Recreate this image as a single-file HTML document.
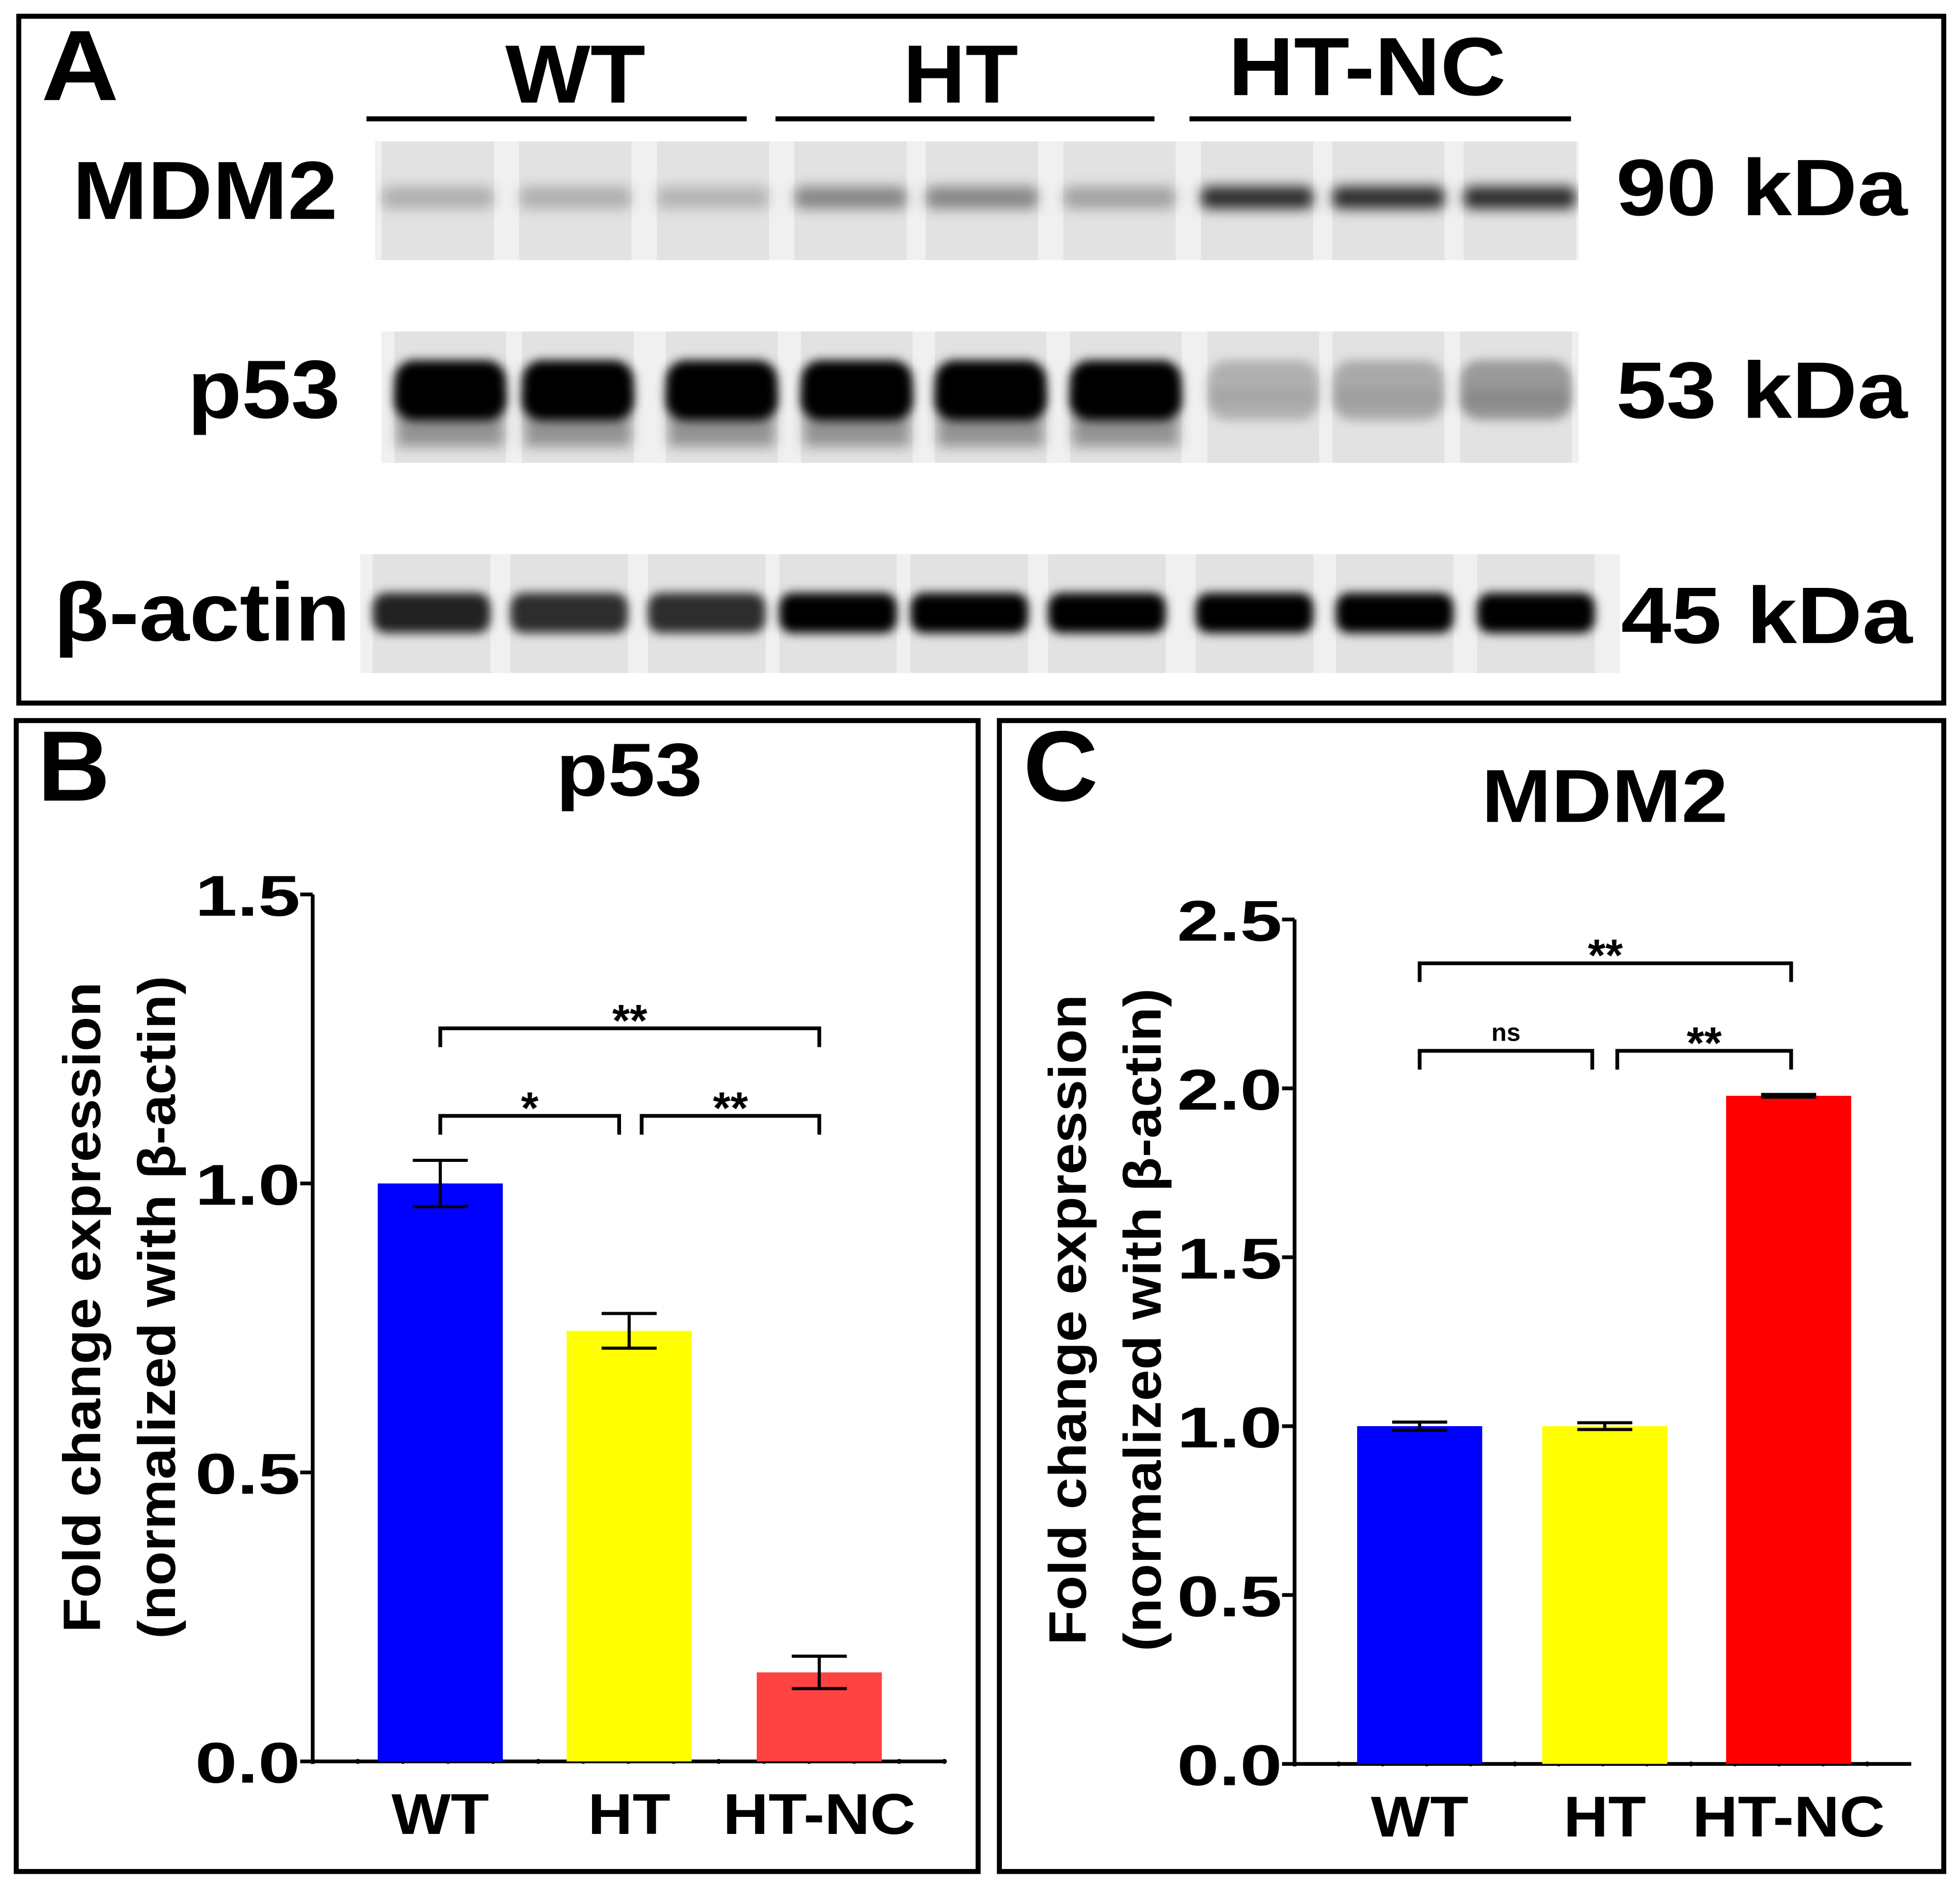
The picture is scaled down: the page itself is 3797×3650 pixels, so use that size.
<!DOCTYPE html>
<html><head><meta charset="utf-8">
<style>
html,body{margin:0;padding:0;background:#fff;}
svg{display:block;}
text{font-family:"Liberation Sans",Arial,sans-serif;font-weight:bold;fill:#000;}
</style></head>
<body>
<svg id="fig" width="3797" height="3650" viewBox="0 0 1567 1506" preserveAspectRatio="none" xmlns="http://www.w3.org/2000/svg">
<defs>
<filter id="blur" x="-30%" y="-60%" width="160%" height="220%"><feGaussianBlur stdDeviation="5"/></filter>
<filter id="blur2" x="-30%" y="-60%" width="160%" height="220%"><feGaussianBlur stdDeviation="4"/></filter>
</defs>
<rect width="1567" height="1506" fill="#fff"/>
<g>
<rect x="15" y="13" width="1539" height="549" fill="none" stroke="#000" stroke-width="4"/>
<text x="33" y="80" font-size="80" textLength="62" lengthAdjust="spacingAndGlyphs">A</text>
<text x="460" y="82" font-size="66" text-anchor="middle" textLength="112" lengthAdjust="spacingAndGlyphs">WT</text>
<text x="768" y="82" font-size="66" text-anchor="middle" textLength="92" lengthAdjust="spacingAndGlyphs">HT</text>
<text x="1093" y="76" font-size="66" text-anchor="middle" textLength="222" lengthAdjust="spacingAndGlyphs">HT-NC</text>
<line x1="293" y1="95" x2="597" y2="95" stroke="#000" stroke-width="4"/>
<line x1="620" y1="95" x2="923" y2="95" stroke="#000" stroke-width="4"/>
<line x1="951" y1="95" x2="1256" y2="95" stroke="#000" stroke-width="4"/>
<text x="58" y="175" font-size="66" textLength="212" lengthAdjust="spacingAndGlyphs">MDM2</text>
<text x="150" y="334" font-size="66" textLength="122" lengthAdjust="spacingAndGlyphs">p53</text>
<text x="43" y="512" font-size="66" textLength="237" lengthAdjust="spacingAndGlyphs">β-actin</text>
<text x="1292" y="172" font-size="64" textLength="233" lengthAdjust="spacingAndGlyphs">90 kDa</text>
<text x="1292" y="334" font-size="64" textLength="233" lengthAdjust="spacingAndGlyphs">53 kDa</text>
<text x="1296" y="514" font-size="64" textLength="233" lengthAdjust="spacingAndGlyphs">45 kDa</text>
<g id="blots"></g>
</g>
<rect x="13" y="576" width="769" height="920" fill="none" stroke="#000" stroke-width="4"/>
<text x="30" y="640" font-size="80" textLength="58" lengthAdjust="spacingAndGlyphs">B</text>
<text x="503" y="636" font-size="60" text-anchor="middle" textLength="117" lengthAdjust="spacingAndGlyphs">p53</text>
<g id="chartB"></g>
<rect x="799" y="576" width="755" height="920" fill="none" stroke="#000" stroke-width="4"/>
<text x="818" y="640" font-size="80" textLength="60" lengthAdjust="spacingAndGlyphs">C</text>
<text x="1283" y="657" font-size="60" text-anchor="middle" textLength="197" lengthAdjust="spacingAndGlyphs">MDM2</text>
<g id="chartC"></g>
</svg>
<script>
const categories = ["WT","HT","HT-NC"];
const p53Values = [1.0, 0.745, 0.154];
const p53Errors = [0.04, 0.03, 0.028];
const p53Ticks = [0.0, 0.5, 1.0, 1.5];
const p53TickLabels = ["0.0","0.5","1.0","1.5"];
const mdm2Values = [1.0, 1.0, 1.978];
const mdm2Errors = [0.012, 0.01, 0.004];
const mdm2Ticks = [0.0, 0.5, 1.0, 1.5, 2.0, 2.5];
const mdm2TickLabels = ["0.0","0.5","1.0","1.5","2.0","2.5"];
const barColors = ["#0000ff","#ffff00","#ff4242"];
const barColorsC = ["#0000ff","#ffff00","#ff0000"];
const mdm2Bands = [0.22,0.22,0.2,0.4,0.4,0.28,0.8,0.8,0.8];
const p53Bands = [1,1,1,1,1,1,0.22,0.25,0.32];
const actinBands = [0.85,0.8,0.8,1,1,1,1,1,1];

const NS="http://www.w3.org/2000/svg";
function mk(tag, attrs, parent){const e=document.createElementNS(NS,tag);for(const k in attrs)e.setAttribute(k,attrs[k]);parent.appendChild(e);return e;}

const blots=document.getElementById('blots');
function blot(name,x0,x1,y0,y1,lanes,bandY,bandH,vals,blurId,smear){
  const g=mk('g',{},blots);
  
  
  mk('rect',{x:x0,y:y0,width:x1-x0,height:y1-y0,fill:'#f0f0f0'},g);
  const lw=(x1-x0)/lanes.length;
  lanes.forEach((cx)=>{
    mk('rect',{x:cx-lw*0.42,y:y0,width:lw*0.84,height:y1-y0,fill:'#e2e2e2'},g);
  });
  const clip='c'+name;
  const cp=mk('clipPath',{id:clip},g);
  mk('rect',{x:x0,y:y0,width:x1-x0,height:y1-y0},cp);
  const bg=mk('g',{'clip-path':'url(#'+clip+')'},g);
  vals.forEach((v,i)=>{
    if(smear) mk('rect',{x:lanes[i]-lw*0.4,y:bandY,width:lw*0.8,height:smear*v,fill:'#000','fill-opacity':0.35*v,filter:'url(#blur)'},bg);
    const b=mk('rect',{x:lanes[i]-lw*0.42,y:bandY-bandH/2,width:lw*0.84,height:bandH,rx:bandH/3,fill:'#000','fill-opacity':v,filter:'url(#'+blurId+')'},bg);
    
    
  });
}
blot('mdm2-blot',300,1262,113,208,[350,460,570,680,785,895,1005,1110,1215],158,18,mdm2Bands,'blur',0);
blot('p53-blot',305,1262,265,370,[360,462,577,685,792,900,1010,1110,1212],312,48,p53Bands,'blur2',45);
blot('actin-blot',288,1295,443,538,[345,455,565,670,775,885,1003,1115,1228],490,32,actinBands,'blur2',0);

function txt(g,attrs,str,name,len){
  if(len){attrs.textLength=len;attrs.lengthAdjust='spacingAndGlyphs';}
  const t=mk('text',attrs,g);t.textContent=str;
  
  
  return t;
}
function chart(id,opt){
  const g=document.getElementById(id);
  const y=v=>opt.y0-(v/opt.max)*(opt.y0-opt.yTop);
  const x=i=>opt.xs[i];
  const ya=mk('line',{x1:opt.ax,y1:y(opt.max),x2:opt.ax,y2:opt.y0+2,stroke:'#000','stroke-width':3},g);
  
  
  const xa=mk('line',{x1:opt.ax,y1:opt.y0,x2:opt.xEnd,y2:opt.y0,stroke:'#000','stroke-width':3},g);
  
  
  for(let t=opt.ax;t<=opt.xEnd;t+=(opt.xEnd-opt.ax)/14){mk('circle',{cx:t,cy:opt.y0,r:2,fill:'#000'},g);}
  opt.ticks.forEach((t,i)=>{
    mk('line',{x1:opt.ax-10,y1:y(t),x2:opt.ax,y2:y(t),stroke:'#000','stroke-width':3},g);
    txt(g,{x:opt.ax-10,y:y(t)+17,'font-size':46,'text-anchor':'end'},opt.tickLabels[i],id+'-y-tick-label',84);
  });
  opt.values.forEach((v,i)=>{
    const r=mk('rect',{x:x(i)-50,y:y(v),width:100,height:opt.y0-y(v),fill:opt.colors[i]},g);
    
    
    const e=opt.errors[i];
    const eg=mk('g',{stroke:'#000','stroke-width':2.5},g);
    
    
    mk('line',{x1:x(i),y1:y(v+e),x2:x(i),y2:y(v-e)},eg);
    mk('line',{x1:x(i)-22,y1:y(v+e),x2:x(i)+22,y2:y(v+e)},eg);
    mk('line',{x1:x(i)-22,y1:y(v-e),x2:x(i)+22,y2:y(v-e)},eg);
    const lens=[78,66,154];
    txt(g,{x:x(i),y:opt.y0+58,'font-size':46,'text-anchor':'middle'},categories[i],id+'-x-label-'+categories[i].toLowerCase(),lens[i]);
  });
  opt.brackets.forEach(b=>{
    const bg=mk('g',{},g);
    
    
    mk('polyline',{points:`${b[0]},${b[2]+15} ${b[0]},${b[2]} ${b[1]},${b[2]} ${b[1]},${b[2]+15}`,fill:'none',stroke:'#000','stroke-width':3},bg);
    const t=mk('text',{x:(b[0]+b[1])/2,y:b[2]-(b[3]=='ns'?8:-6),'font-size':b[3]=='ns'?20:36,'font-weight':b[3]=='ns'?'normal':'bold','text-anchor':'middle'},bg);
    t.textContent=b[3];
  });
  const yt=mk('text',{transform:`translate(${opt.tx},${opt.ty}) rotate(-90)`,'font-size':42,'text-anchor':'middle'},g);
  
  
  const t1=mk('tspan',{x:0,y:0,textLength:520,lengthAdjust:'spacingAndGlyphs'},yt);t1.textContent='Fold change expression';
  const t2=mk('tspan',{x:0,y:60,textLength:530,lengthAdjust:'spacingAndGlyphs'},yt);t2.textContent='(normalized with β-actin)';
}
chart('chartB',{y0:1408,yTop:715,max:1.5,ax:250,xEnd:755,xs:[352,503,655],values:p53Values,errors:p53Errors,ticks:p53Ticks,tickLabels:p53TickLabels,colors:barColors,
  brackets:[[352,655,822,'**'],[352,495,892,'*'],[513,655,892,'**']],tx:80,ty:1045});
chart('chartC',{y0:1410,yTop:735,max:2.5,ax:1035,xEnd:1528,xs:[1135,1283,1430],values:mdm2Values,errors:mdm2Errors,ticks:mdm2Ticks,tickLabels:mdm2TickLabels,colors:barColorsC,
  brackets:[[1135,1432,770,'**'],[1135,1273,840,'ns'],[1293,1432,840,'**']],tx:868,ty:1055});
</script>
</body></html>
